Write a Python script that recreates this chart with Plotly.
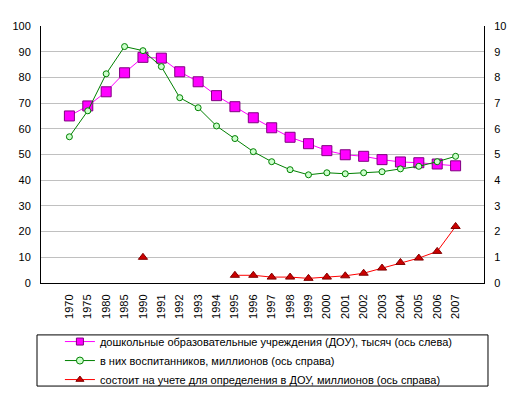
import plotly.graph_objects as go

years = ["1970", "1975", "1980", "1985", "1990", "1991", "1992", "1993", "1994", "1995", "1996",
         "1997", "1998", "1999", "2000", "2001", "2002", "2003", "2004", "2005", "2006", "2007"]
dou = [65.0, 68.9, 74.4, 81.8, 87.8, 87.5, 82.2, 78.3, 72.9, 68.6, 64.3,
       60.4, 56.7, 54.2, 51.5, 49.9, 49.3, 48.0, 47.1, 46.8, 46.3, 45.6]
pupils = [5.69, 6.70, 8.14, 9.20, 9.04, 8.42, 7.21, 6.82, 6.11, 5.62, 5.11,
          4.72, 4.41, 4.21, 4.29, 4.25, 4.29, 4.33, 4.44, 4.54, 4.72, 4.93]
waiting = [None, None, None, None, 1.0, None, None, None, None, 0.30, 0.30,
           0.23, 0.23, 0.18, 0.23, 0.28, 0.38, 0.58, 0.80, 0.97, 1.23, 2.20]
left_ticks = list(range(0, 101, 10))
right_ticks = list(range(0, 11, 1))

names = [
    "дошкольные образовательные учреждения (ДОУ), тысяч (ось слева)",
    "в них воспитанников, миллионов (ось справа)",
    "состоит на учете для определения в ДОУ, миллионов (ось справа)",
]

font = "Liberation Sans, Arial, sans-serif"

styles = [
    dict(line=dict(color="#FF00FF", width=1), symbol="square", color="#FF00FF", edge="#800080", size=10, axis="y"),
    dict(line=dict(color="#008000", width=1), symbol="circle", color="#CCFFCC", edge="#008000", size=6, axis="y2"),
    dict(line=dict(color="#FF0000", width=1), symbol="triangle-up", color="#CC0000", edge="#800000", size=8, axis="y2"),
]
series = [dou, pupils, waiting]

fig = go.Figure()
for name, vals, st in zip(names, series, styles):
    fig.add_trace(go.Scatter(
        x=years, y=vals, name=name, mode="lines+markers", showlegend=False,
        line=st["line"], connectgaps=False,
        marker=dict(symbol=st["symbol"], size=st["size"], color=st["color"],
                    line=dict(color=st["edge"], width=1)),
        yaxis=st["axis"]))
# legend entries (smaller markers, as in the reference legend)
for name, st in zip(names, styles):
    fig.add_trace(go.Scatter(
        x=[None], y=[None], name=name, mode="lines+markers", showlegend=True,
        line=st["line"],
        marker=dict(symbol=st["symbol"], size=7, color=st["color"],
                    line=dict(color=st["edge"], width=1)),
        yaxis=st["axis"], hoverinfo="skip"))

fig.update_layout(
    width=509, height=388,
    margin=dict(l=33, r=33, t=18, b=113, pad=0, autoexpand=False),
    paper_bgcolor="white", plot_bgcolor="white",
    font=dict(family=font, size=11, color="black"),
    xaxis=dict(type="category", tickangle=-90, showline=True, linecolor="black", linewidth=1,
               showgrid=False, ticks="outside", ticklen=6, tickcolor="white",
               tickfont=dict(size=11), automargin=False),
    yaxis=dict(range=[0, 100], tickvals=left_ticks, showline=True, linecolor="black", linewidth=1,
               showgrid=True, gridcolor="#C0C0C0", gridwidth=1, ticks="outside", ticklen=7,
               tickcolor="white", zeroline=False, tickfont=dict(size=11), automargin=False),
    yaxis2=dict(range=[0, 10], tickvals=right_ticks, overlaying="y", side="right", showline=True,
                linecolor="black", linewidth=1, showgrid=False, ticks="outside", ticklen=7,
                tickcolor="white", zeroline=False, tickfont=dict(size=11), automargin=False),
    showlegend=True,
    legend=dict(xref="container", yref="container", x=0.102, y=0.1777, xanchor="left", yanchor="top",
                bgcolor="rgba(0,0,0,0)", borderwidth=0, font=dict(size=11, family=font),
                tracegroupgap=0),
    shapes=[dict(type="rect", xref="paper", yref="paper", x0=-0.009, x1=1.009, y0=-0.401, y1=-0.202,
                 line=dict(color="black", width=1), fillcolor="rgba(0,0,0,0)")],
)

fig.write_html("out.html")
